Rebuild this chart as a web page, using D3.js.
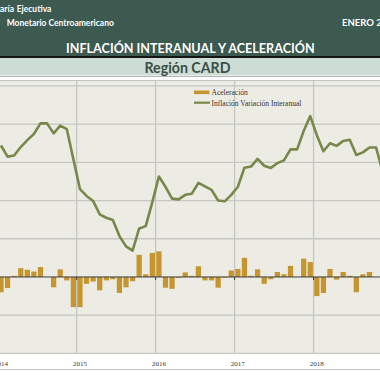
<!DOCTYPE html>
<html>
<head>
<meta charset="utf-8">
<script src="https://cdn.jsdelivr.net/npm/d3@7"></script>
<style>
  body { margin: 0; background: #ffffff; }
  svg { display: block; }
</style>
</head>
<body>
<div id="chart"></div>
<script>
// categorias: meses de 2014 a 2018
const years = ['2014', '2015', '2016', '2017', '2018'];
const monthNums = ['01', '02', '03', '04', '05', '06', '07', '08', '09', '10', '11', '12'];

// inflación interanual (%), ene-2014 .. nov-2018
const inflacion = [
  3.44, 3.15, 3.18, 3.40, 3.58, 3.74, 4.02, 4.02, 3.76, 3.96, 3.87, 3.08,
  2.30, 2.12, 1.99, 1.64, 1.55, 1.49, 1.07, 0.80, 0.69, 1.27, 1.33, 1.96,
  2.63, 2.36, 2.05, 2.03, 2.15, 2.18, 2.46, 2.37, 2.28, 2.00, 1.98, 2.15,
  2.36, 2.86, 2.89, 3.09, 2.91, 2.85, 2.98, 3.05, 3.34, 3.34, 3.82, 4.21,
  3.71, 3.29, 3.50, 3.43, 3.56, 3.59, 3.19, 3.26, 3.39, 3.39, 2.75,
];

// aceleración (puntos porcentuales)
const aceleracion = [
  -0.40, -0.29, 0.03, 0.23, 0.19, 0.14, 0.26, 0.00, -0.27, 0.20, -0.09, -0.79,
  -0.79, -0.18, -0.12, -0.35, -0.09, -0.06, -0.42, -0.27, -0.11, 0.58, 0.07, 0.63,
  0.67, -0.28, -0.31, -0.02, 0.12, 0.03, 0.28, -0.09, -0.09, -0.28, -0.02, 0.17,
  0.21, 0.50, 0.03, 0.20, -0.18, -0.06, 0.13, 0.07, 0.29, 0.00, 0.48, 0.39,
  -0.50, -0.42, 0.21, -0.07, 0.13, 0.03, -0.40, 0.07, 0.13, 0.00, -0.64,
];

const yTicks = [-2, -1, 0, 1, 2, 3, 4, 5];

const months = d3.cross(years, monthNums).map(([y, m]) => `${y}-${m}`);
const data = inflacion.map((v, i) => ({
  mes: months[i], inflacion: v, aceleracion: aceleracion[i],
}));

const W = 380;
const H = 380;
const plot = { top: 81, bottom: 353.4 };

const svg = d3.select('#chart').append('svg')
  .attr('width', W)
  .attr('height', H);

// ---- cabecera ----
svg.append('rect')
  .attr('x', 0).attr('y', 0).attr('width', W).attr('height', 56)
  .attr('fill', '#3c5a50');
svg.append('rect')
  .attr('x', 0).attr('y', 56).attr('width', W).attr('height', 2)
  .attr('fill', '#151515');
svg.append('rect')
  .attr('x', 0).attr('y', 58).attr('width', W).attr('height', 17.5)
  .attr('fill', '#cedcd6');
svg.append('line')
  .attr('x1', 0).attr('x2', W).attr('y1', 76.5).attr('y2', 76.5)
  .attr('stroke', '#b4b4b4');

const headFont = 'Lato, "Open Sans", sans-serif';
const headText = (x, y, txt, anchor, size) => svg.append('text')
  .attr('x', x).attr('y', y)
  .attr('text-anchor', anchor)
  .attr('font-family', headFont).attr('font-weight', 700).attr('font-size', size)
  .attr('fill', '#ffffff')
  .text(txt);

// el recuadro original corta el texto por la izquierda
headText(14, 11.5, 'Secretaría', 'end', 8.5);
headText(16.7, 11.5, 'Ejecutiva', 'start', 8.5);
headText(6.7, 25.5, 'Monetario Centroamericano', 'start', 8.5);
headText(342, 25.5, 'ENERO 2019', 'start', 9.5);
headText(190.3, 52.5, 'INFLACIÓN INTERANUAL Y ACELERACIÓN', 'middle', 12.6);

svg.append('text')
  .attr('x', 187.5).attr('y', 73)
  .attr('text-anchor', 'middle')
  .attr('font-family', headFont).attr('font-weight', 700).attr('font-size', 14.2)
  .attr('fill', '#3a5046')
  .text('Región CARD');

// ---- area del grafico ----
svg.append('line')
  .attr('x1', 0).attr('x2', W).attr('y1', 80.5).attr('y2', 80.5)
  .attr('stroke', '#c4c4c4');
svg.append('rect')
  .attr('x', 0).attr('y', plot.top).attr('width', W).attr('height', plot.bottom - plot.top)
  .attr('fill', '#ecece4');

const x = d3.scaleBand()
  .domain(months)
  .range([-2.3, -2.3 + 6.58 * months.length])
  .paddingInner(0.2)
  .paddingOuter(0.1);

const y = d3.scaleLinear()
  .domain([-2, 5])
  .range([plot.bottom, 85.9]);

const cellStart = d => x(d) - (x.step() - x.bandwidth()) / 2;
const januaries = years.map(yr => `${yr}-01`);

// lineas de cuadricula
svg.append('g')
  .selectAll('line')
  .data(yTicks.filter(t => t !== 0))
  .join('line')
  .attr('x1', 0).attr('x2', W)
  .attr('y1', d => y(d)).attr('y2', d => y(d))
  .attr('stroke', '#c6c6c2')
  .attr('stroke-width', 1.3);

svg.append('g')
  .selectAll('line')
  .data(januaries.slice(1))
  .join('line')
  .attr('x1', d => cellStart(d)).attr('x2', d => cellStart(d))
  .attr('y1', plot.top).attr('y2', plot.bottom)
  .attr('stroke', '#c6c6c2')
  .attr('stroke-width', 1.3);

// barras de aceleración
svg.append('g')
  .selectAll('rect')
  .data(data)
  .join('rect')
  .attr('x', d => x(d.mes))
  .attr('width', x.bandwidth())
  .attr('y', d => y(Math.max(0, d.aceleracion)))
  .attr('height', d => Math.abs(y(d.aceleracion) - y(0)))
  .attr('fill', '#c5952f');

// eje cero
svg.append('line')
  .attr('x1', 0).attr('x2', W)
  .attr('y1', y(0)).attr('y2', y(0))
  .attr('stroke', '#3a3a3a')
  .attr('stroke-width', 1);

svg.append('g')
  .selectAll('line')
  .data(januaries.slice(1))
  .join('line')
  .attr('x1', d => cellStart(d)).attr('x2', d => cellStart(d))
  .attr('y1', y(0)).attr('y2', y(0) + 3)
  .attr('stroke', '#3a3a3a');

// linea de inflación
const line = d3.line()
  .x(d => x(d.mes) + x.bandwidth() / 2)
  .y(d => y(d.inflacion));

svg.append('path')
  .datum(data)
  .attr('fill', 'none')
  .attr('stroke', '#77884b')
  .attr('stroke-width', 2.6)
  .attr('stroke-linejoin', 'round')
  .attr('d', line);

// leyenda
const legFont = '"Liberation Serif", "DejaVu Serif", serif';
const legend = svg.append('g').attr('transform', 'translate(194, 0)');
legend.append('rect')
  .attr('x', 0).attr('y', 90.5).attr('width', 15.5).attr('height', 3.6)
  .attr('fill', '#c5952f');
legend.append('text')
  .attr('x', 17.5).attr('y', 95)
  .attr('font-family', legFont).attr('font-size', 7.5)
  .attr('fill', '#333333')
  .text('Aceleración');
legend.append('line')
  .attr('x1', 0).attr('x2', 16).attr('y1', 102.7).attr('y2', 102.7)
  .attr('stroke', '#77884b').attr('stroke-width', 2.2);
legend.append('text')
  .attr('x', 17.5).attr('y', 105.5)
  .attr('font-family', legFont).attr('font-size', 7.5)
  .attr('fill', '#333333')
  .text('Inflación Variación Interanual');

// eje x (años)
svg.append('g')
  .selectAll('text')
  .data(januaries)
  .join('text')
  .attr('x', d => x(d) + x.bandwidth() / 2)
  .attr('y', 366)
  .attr('text-anchor', 'middle')
  .attr('font-family', legFont).attr('font-size', 7)
  .attr('fill', '#333333')
  .text(d => d.slice(0, 4));

svg.append('line')
  .attr('x1', 0).attr('x2', W).attr('y1', 369.5).attr('y2', 369.5)
  .attr('stroke', '#c4c4c4');
</script>
</body>
</html>
